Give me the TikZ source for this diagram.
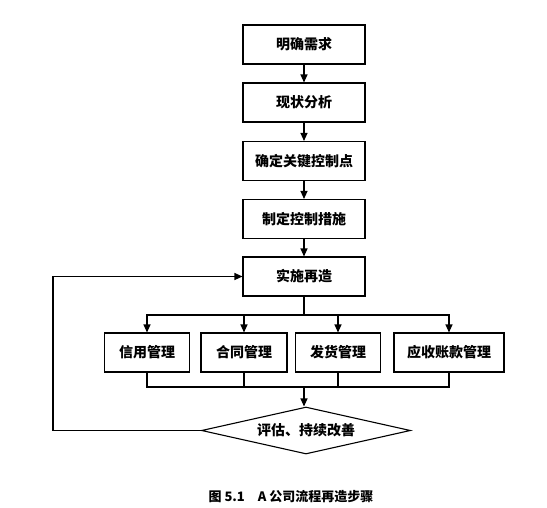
\documentclass[tikz,border=0pt]{standalone}
\usepackage{fontspec}
\usetikzlibrary{arrows.meta,shapes.geometric}
\newfontfamily\cjk{Noto Sans CJK SC}

\begin{document}
\begin{tikzpicture}[x=1pt,y=-1pt,line width=1.1pt,
  stepbox/.style={draw,rectangle,minimum height=39pt,inner sep=0pt,font=\cjk\bfseries\fontsize{14}{14}\selectfont},
  arr/.style={-{Triangle[length=8pt,width=7pt]}}]
\useasboundingbox (0,0) rectangle (547,507);
\node[stepbox,minimum width=122pt] (s1) at (304,44.5) {明确需求};
\node[stepbox,minimum width=122pt] (s2) at (304,102.5) {现状分析};
\node[stepbox,minimum width=122pt] (s3) at (304,161) {确定关键控制点};
\node[stepbox,minimum width=122pt] (s4) at (304,219) {制定控制措施};
\node[stepbox,minimum width=122pt] (s5) at (304,276.5) {实施再造};
\node[stepbox,minimum width=85pt] (b1) at (147,352.5) {信用管理};
\node[stepbox,minimum width=86pt] (b2) at (244,352.5) {合同管理};
\node[stepbox,minimum width=85pt] (b3) at (338,352.5) {发货管理};
\node[stepbox,minimum width=110pt] (b4) at (449,352.5) {应收账款管理};
\node[draw,diamond,aspect=4.45,inner sep=0pt,minimum width=209pt,minimum height=47pt,font=\cjk\bfseries\fontsize{14}{14}\selectfont] (ev) at (306,430.5) {评估、持续改善};
\node[font=\cjk\bfseries\fontsize{13}{13}\selectfont] (cap) at (291,497) {图 5.1\quad A 公司流程再造步骤};
\coordinate (sp) at (304,315);
\coordinate (jn) at (304,387);
\draw[arr] (s1) -- (s2);
\draw[arr] (s2) -- (s3);
\draw[arr] (s3) -- (s4);
\draw[arr] (s4) -- (s5);
\draw (s5) -- (sp);
\draw[arr] (sp) -| (b1);
\draw[arr] (sp) -| (b4);
\draw[arr] (b2 |- sp) -- (b2);
\draw[arr] (b3 |- sp) -- (b3);
\draw (b1) |- (jn) -| (b4);
\draw (b2) -- (b2 |- jn);
\draw (b3) -- (b3 |- jn);
\draw[arr] (jn) -- (jn |- ev.north);
\draw[arr] (ev.west) -- (53,430.5) |- (s5.west);
\end{tikzpicture}
\end{document}
